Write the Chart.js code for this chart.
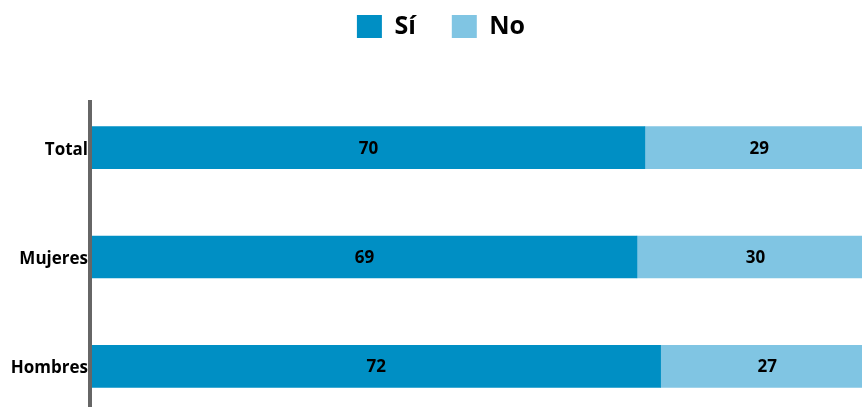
<!DOCTYPE html>
<html>
<head>
<meta charset="utf-8">
<script src="https://cdn.jsdelivr.net/npm/chart.js@4"></script>
<style>
  html, body { margin: 0; padding: 0; overflow: hidden; background: #fff; }
  canvas { display: block; }
</style>
</head>
<body>
<canvas id="chart" width="862" height="421"></canvas>
<script>
// data
const categories = ['Total', 'Mujeres', 'Hombres'];
const siValues = [70, 69, 72];
const noValues = [29, 30, 27];
const seriesNames = ['Sí', 'No'];

const FONT = "'Open Sans', 'DejaVu Sans', sans-serif";

// draws the numbers inside each bar segment
const barLabels = {
    id: 'barLabels',
    afterDatasetsDraw(chart) {
        const ctx = chart.ctx;
        ctx.save();
        ctx.font = 'bold 17px ' + FONT;
        ctx.fillStyle = '#000';
        ctx.textAlign = 'center';
        ctx.textBaseline = 'middle';
        chart.data.datasets.forEach((ds, i) => {
            chart.getDatasetMeta(i).data.forEach((bar, j) => {
                const cx = (bar.base + bar.x) / 2;
                ctx.fillText(ds.data[j], cx, bar.y + 1);
            });
        });
        ctx.restore();
    }
};

// grey vertical axis line on the left of the bars
const axisLine = {
    id: 'axisLine',
    afterDraw(chart) {
        const ctx = chart.ctx;
        const area = chart.chartArea;
        ctx.save();
        ctx.fillStyle = '#666666';
        ctx.fillRect(area.left - 4, 100, 4, area.bottom - 100);
        ctx.restore();
    }
};

// taller legend block so the plot starts lower, legend drawn near the top
const legendTweak = {
    id: 'legendTweak',
    beforeInit(chart) {
        const legend = chart.legend;
        const fit = legend.fit;
        const draw = legend.draw;
        legend.fit = function () {
            fit.call(legend);
            legend.height = 93;
        };
        legend.draw = function () {
            chart.ctx.save();
            chart.ctx.translate(10, -22);
            draw.call(legend);
            chart.ctx.restore();
        };
    }
};

new Chart(document.getElementById('chart'), {
    type: 'bar',
    data: {
        labels: categories,
        datasets: [
            { label: seriesNames[0], data: siValues, backgroundColor: '#008fc4', barThickness: 42 },
            { label: seriesNames[1], data: noValues, backgroundColor: '#80c5e3', barThickness: 42 }
        ]
    },
    options: {
        indexAxis: 'y',
        responsive: false,
        animation: false,
        layout: { padding: 0 },
        scales: {
            x: {
                stacked: true,
                display: false,
                min: 0,
                max: 97.5
            },
            y: {
                stacked: true,
                grid: { display: false, drawTicks: false },
                border: { display: false },
                ticks: {
                    color: '#000',
                    padding: 4,
                    labelOffset: 2,
                    font: { family: FONT, size: 17, weight: 'bold' }
                },
                afterFit(scale) {
                    scale.width = 92;
                    scale.paddingTop = 0;
                    scale.paddingBottom = 0;
                }
            }
        },
        plugins: {
            legend: {
                position: 'top',
                labels: {
                    boxWidth: 25,
                    boxHeight: 23,
                    padding: 36,
                    color: '#000',
                    font: { family: FONT, size: 25, weight: 'bold' }
                }
            },
            tooltip: { enabled: false }
        }
    },
    plugins: [barLabels, axisLine, legendTweak]
});
</script>
</body>
</html>
